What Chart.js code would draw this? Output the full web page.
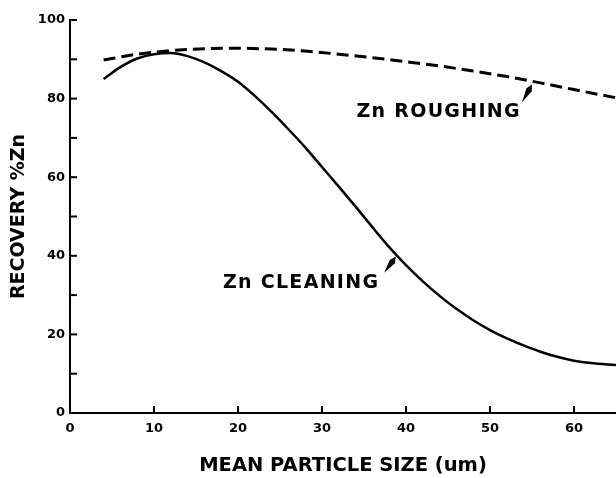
<!DOCTYPE html>
<html>
<head>
<meta charset="utf-8">
<script src="https://cdn.jsdelivr.net/npm/chart.js@4.4.0/dist/chart.umd.min.js"></script>
<style>
  html, body { margin: 0; padding: 0; background: #fff; }
  #wrap { width: 616px; height: 478px; }
</style>
</head>
<body>
<div id="wrap"><canvas id="chart"></canvas></div>
<script>
// values
const cleaningSizes = [4, 6, 8, 10, 12, 14, 16, 18, 20, 22, 24, 26, 28, 30, 32, 34, 36, 38, 40, 42, 44, 46, 48, 50, 52, 54, 56, 58, 60, 62, 65];
const cleaning = [85, 88, 90.2, 91.3, 91.6, 90.8, 89.2, 87, 84.3, 80.7, 76.6, 72.2, 67.6, 62.6, 57.6, 52.5, 47.3, 42.2, 37.6, 33.5, 29.8, 26.5, 23.6, 21.1, 19, 17.2, 15.6, 14.3, 13.3, 12.7, 12.2];
const roughingSizes = [4, 8, 12, 16, 20, 24, 28, 32, 36, 40, 44, 48, 52, 56, 60, 65];
const roughing = [89.8, 91.3, 92.2, 92.7, 92.8, 92.6, 92.1, 91.3, 90.4, 89.4, 88.3, 87, 85.6, 84, 82.3, 80.2];

const xTitle = 'MEAN PARTICLE SIZE (um)';
const yTitle = 'RECOVERY %Zn';

// curve labels: text anchor and arrow (from -> to), in data units
const curveLabels = [
  { text: 'Zn ROUGHING', x: 34.1, y: 76.6, from: [53.8, 79.0], to: [55, 83.6] },
  { text: 'Zn CLEANING', x: 18.2, y: 33.1, from: [37.4, 35.7], to: [38.8, 39.8] }
];

const FONT = 'DejaVu Sans';

function toPoints(xs, ys) {
  return xs.map((x, i) => ({ x: x, y: ys[i] }));
}

// ticks on this figure point into the plot
const insideTicks = {
  id: 'insideTicks',
  afterDraw(chart) {
    const ctx = chart.ctx;
    const xs = chart.scales.x, ys = chart.scales.y;
    ctx.save();
    ctx.strokeStyle = '#000';
    ctx.lineWidth = 2;
    ys.ticks.forEach(t => {
      const py = ys.getPixelForValue(t.value);
      ctx.beginPath();
      ctx.moveTo(xs.left, py);
      ctx.lineTo(xs.left + 7, py);
      ctx.stroke();
    });
    xs.ticks.forEach(t => {
      const px = xs.getPixelForValue(t.value);
      ctx.beginPath();
      ctx.moveTo(px, ys.bottom);
      ctx.lineTo(px, ys.bottom - 7);
      ctx.stroke();
    });
    ctx.restore();
  }
};

const labelPlugin = {
  id: 'curveLabels',
  afterDatasetsDraw(chart) {
    const ctx = chart.ctx;
    const xs = chart.scales.x, ys = chart.scales.y;
    ctx.save();
    ctx.fillStyle = '#000';
    ctx.font = 'bold 19px "' + FONT + '"';
    ctx.letterSpacing = '1.3px';
    ctx.textAlign = 'left';
    ctx.textBaseline = 'middle';
    curveLabels.forEach(l => {
      ctx.fillText(l.text, xs.getPixelForValue(l.x), ys.getPixelForValue(l.y));
      const x1 = xs.getPixelForValue(l.from[0]), y1 = ys.getPixelForValue(l.from[1]);
      const x2 = xs.getPixelForValue(l.to[0]), y2 = ys.getPixelForValue(l.to[1]);
      const a = Math.atan2(y2 - y1, x2 - x1);
      const nx = -Math.sin(a), ny = Math.cos(a);
      // tapered wedge arrow
      ctx.beginPath();
      ctx.moveTo(x1, y1);
      ctx.lineTo(x2 - Math.cos(a) * 6 + nx * 3, y2 - Math.sin(a) * 6 + ny * 3);
      ctx.lineTo(x2, y2);
      ctx.lineTo(x2 - Math.cos(a) * 6 - nx * 3, y2 - Math.sin(a) * 6 - ny * 3);
      ctx.closePath();
      ctx.fill();
    });
    ctx.restore();
  }
};

const ctx = document.getElementById('chart').getContext('2d');
new Chart(ctx, {
  type: 'line',
  data: {
    datasets: [
      {
        data: toPoints(cleaningSizes, cleaning),
        borderColor: '#000',
        borderWidth: 2.5,
        pointRadius: 0,
        fill: false,
        cubicInterpolationMode: 'monotone'
      },
      {
        data: toPoints(roughingSizes, roughing),
        borderColor: '#000',
        borderWidth: 3,
        borderDash: [12, 6],
        pointRadius: 0,
        fill: false,
        cubicInterpolationMode: 'monotone'
      }
    ]
  },
  options: {
    responsive: true,
    maintainAspectRatio: false,
    animation: false,
    layout: { padding: { top: 20, right: 0, left: 0, bottom: 0 } },
    plugins: {
      legend: { display: false },
      tooltip: { enabled: false }
    },
    scales: {
      x: {
        type: 'linear',
        min: 0,
        max: 65,
        grid: { drawOnChartArea: false, drawTicks: false },
        border: { color: '#000', width: 2 },
        ticks: {
          stepSize: 10,
          includeBounds: false,
          padding: 8,
          color: '#000',
          font: { family: FONT, weight: 'bold', size: 13 },
          maxRotation: 0
        },
        title: {
          display: true,
          text: xTitle,
          color: '#000',
          font: { family: FONT, weight: 'bold', size: 19.5 },
          padding: { top: 13, bottom: 0 }
        },
        afterFit(scale) { scale.height = 65; }
      },
      y: {
        min: 0,
        max: 100,
        grid: { drawOnChartArea: false, drawTicks: false },
        border: { color: '#000', width: 2 },
        ticks: {
          stepSize: 10,
          padding: 5,
          color: '#000',
          font: { family: FONT, weight: 'bold', size: 13 },
          callback: v => (v % 20 === 0 ? v : '')
        },
        title: {
          display: true,
          text: yTitle,
          color: '#000',
          font: { family: FONT, weight: 'bold', size: 19 },
          padding: { top: 8, bottom: 0 }
        },
        afterFit(scale) { scale.width = 70; }
      }
    }
  },
  plugins: [insideTicks, labelPlugin]
});
</script>
</body>
</html>
